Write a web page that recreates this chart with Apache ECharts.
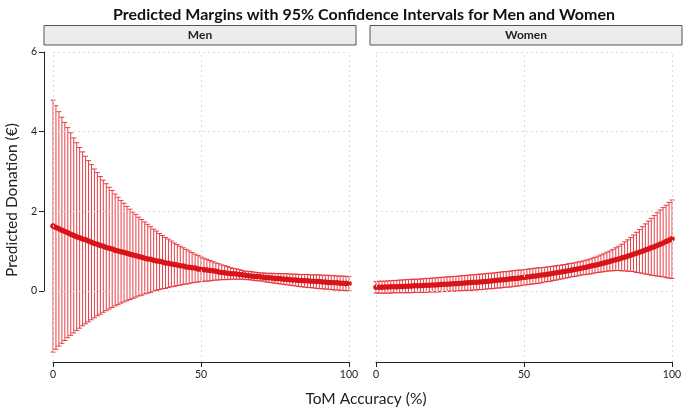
<!DOCTYPE html>
<html>
<head>
<meta charset="utf-8">
<script src="https://cdn.jsdelivr.net/npm/echarts@6/dist/echarts.min.js"></script>
<style>html,body{margin:0;padding:0;background:#fff}#c{width:685px;height:410px}</style>
</head>
<body>
<div id="c"></div>
<script>
const accuracy = [0,1,2,3,4,5,6,7,8,9,10,11,12,13,14,15,16,17,18,19,20,21,22,23,24,25,26,27,28,29,30,31,32,33,34,35,36,37,38,39,40,41,42,43,44,45,46,47,48,49,50,51,52,53,54,55,56,57,58,59,60,61,62,63,64,65,66,67,68,69,70,71,72,73,74,75,76,77,78,79,80,81,82,83,84,85,86,87,88,89,90,91,92,93,94,95,96,97,98,99,100];

const menMean = [1.63,1.59,1.56,1.52,1.49,1.46,1.42,1.39,1.36,1.33,
1.30,1.28,1.25,1.22,1.19,1.17,1.14,1.12,1.09,1.07,
1.05,1.02,1.00,0.98,0.96,0.94,0.92,0.90,0.88,0.86,
0.84,0.82,0.80,0.79,0.77,0.75,0.74,0.72,0.70,0.69,
0.67,0.66,0.65,0.63,0.62,0.60,0.59,0.58,0.57,0.55,
0.54,0.53,0.52,0.51,0.50,0.49,0.47,0.46,0.45,0.44,
0.43,0.43,0.42,0.41,0.40,0.39,0.38,0.37,0.36,0.36,
0.35,0.34,0.33,0.33,0.32,0.31,0.31,0.30,0.29,0.29,
0.28,0.27,0.27,0.26,0.26,0.25,0.25,0.24,0.24,0.23,
0.23,0.22,0.22,0.21,0.21,0.20,0.20,0.19,0.19,0.18,
0.18];
const menLow = [-1.54,-1.47,-1.39,-1.32,-1.25,-1.18,-1.12,-1.06,-1.00,-0.94,
-0.88,-0.83,-0.78,-0.73,-0.68,-0.63,-0.59,-0.54,-0.50,-0.46,
-0.42,-0.38,-0.35,-0.31,-0.28,-0.25,-0.22,-0.19,-0.16,-0.13,
-0.11,-0.08,-0.06,-0.04,-0.01,0.01,0.03,0.05,0.06,0.08,
0.10,0.11,0.13,0.14,0.16,0.17,0.18,0.20,0.21,0.22,
0.23,0.24,0.24,0.25,0.26,0.27,0.27,0.28,0.28,0.28,
0.29,0.29,0.29,0.29,0.29,0.28,0.28,0.27,0.26,0.25,
0.25,0.24,0.22,0.21,0.20,0.19,0.18,0.17,0.16,0.15,
0.14,0.13,0.12,0.11,0.10,0.09,0.08,0.08,0.07,0.06,
0.05,0.05,0.04,0.04,0.03,0.02,0.02,0.01,0.01,0.00,
0.00];
const menHigh = [4.79,4.65,4.50,4.36,4.23,4.10,3.97,3.84,3.72,3.60,
3.49,3.38,3.27,3.17,3.06,2.97,2.87,2.78,2.69,2.60,
2.52,2.43,2.35,2.27,2.20,2.12,2.05,1.98,1.92,1.85,
1.79,1.73,1.67,1.61,1.55,1.50,1.44,1.39,1.34,1.30,
1.25,1.20,1.16,1.12,1.08,1.04,1.00,0.96,0.92,0.89,
0.85,0.82,0.79,0.76,0.73,0.70,0.68,0.65,0.63,0.61,
0.58,0.56,0.55,0.53,0.51,0.49,0.49,0.48,0.47,0.46,
0.45,0.45,0.44,0.44,0.44,0.43,0.43,0.43,0.43,0.43,
0.42,0.42,0.42,0.41,0.41,0.41,0.41,0.40,0.40,0.40,
0.40,0.39,0.39,0.39,0.38,0.38,0.37,0.37,0.37,0.36,
0.36];

const womenMean = [0.086,0.088,0.091,0.093,0.096,0.099,0.101,0.104,0.107,0.110,
0.113,0.116,0.119,0.123,0.126,0.129,0.133,0.137,0.140,0.144,
0.148,0.152,0.157,0.161,0.165,0.170,0.175,0.179,0.184,0.189,
0.195,0.200,0.205,0.211,0.217,0.223,0.229,0.235,0.242,0.248,
0.255,0.262,0.270,0.277,0.285,0.293,0.301,0.309,0.317,0.326,
0.335,0.344,0.354,0.364,0.374,0.384,0.395,0.405,0.417,0.428,
0.440,0.452,0.464,0.477,0.490,0.504,0.518,0.532,0.547,0.562,
0.577,0.593,0.610,0.626,0.644,0.661,0.680,0.698,0.718,0.737,
0.758,0.778,0.800,0.822,0.845,0.868,0.892,0.916,0.942,0.968,
0.994,1.022,1.050,1.079,1.109,1.139,1.171,1.203,1.236,1.270,
1.305];
const womenLow = [-0.06,-0.06,-0.06,-0.06,-0.06,-0.06,-0.05,-0.05,-0.05,-0.05,
-0.05,-0.05,-0.05,-0.04,-0.04,-0.04,-0.04,-0.04,-0.03,-0.03,
-0.03,-0.03,-0.02,-0.02,-0.02,-0.01,-0.01,-0.01,0.00,0.00,
0.01,0.01,0.01,0.02,0.02,0.03,0.03,0.04,0.05,0.05,
0.06,0.07,0.07,0.08,0.09,0.09,0.10,0.11,0.12,0.13,
0.14,0.15,0.16,0.17,0.18,0.19,0.20,0.22,0.23,0.24,
0.26,0.27,0.29,0.30,0.32,0.33,0.35,0.36,0.37,0.39,
0.40,0.41,0.42,0.43,0.45,0.46,0.47,0.48,0.49,0.50,
0.50,0.51,0.51,0.50,0.50,0.49,0.49,0.48,0.46,0.45,
0.44,0.42,0.41,0.39,0.38,0.37,0.36,0.35,0.33,0.32,
0.31];
const womenHigh = [0.23,0.24,0.24,0.24,0.25,0.25,0.26,0.26,0.27,0.27,
0.28,0.28,0.29,0.29,0.29,0.30,0.30,0.31,0.31,0.32,
0.32,0.33,0.34,0.34,0.35,0.35,0.36,0.36,0.37,0.38,
0.38,0.39,0.40,0.40,0.41,0.42,0.42,0.43,0.44,0.44,
0.45,0.46,0.47,0.48,0.48,0.49,0.50,0.51,0.52,0.52,
0.53,0.54,0.55,0.56,0.57,0.58,0.58,0.59,0.60,0.61,
0.62,0.63,0.64,0.65,0.66,0.68,0.69,0.70,0.72,0.73,
0.75,0.77,0.79,0.82,0.84,0.87,0.90,0.93,0.97,1.00,
1.04,1.08,1.12,1.17,1.23,1.28,1.34,1.40,1.47,1.54,
1.61,1.68,1.75,1.82,1.89,1.96,2.03,2.09,2.15,2.22,
2.28];

const xTicks = [0, 50, 100];
const yTicks = [0, 2, 4, 6];
const panels = ['Men', 'Women'];

const FONT = 'Lato, "Open Sans", sans-serif';
const BAR = '#e42a31';
const MEAN = '#d8141b';
const GRIDC = '#dadada';

function errRender(params, api) {
  const x = api.value(0), lo = api.value(1), hi = api.value(2);
  const a = api.coord([x, lo]), b = api.coord([x, hi]);
  const cap = 2.5;
  const st = { stroke: BAR, lineWidth: 0.9 };
  return { type: 'group', children: [
    { type: 'line', shape: { x1: a[0], y1: a[1], x2: b[0], y2: b[1] }, style: st },
    { type: 'line', shape: { x1: b[0] - cap, y1: b[1], x2: b[0] + cap, y2: b[1] }, style: st },
    { type: 'line', shape: { x1: a[0] - cap, y1: a[1], x2: a[0] + cap, y2: a[1] }, style: st }
  ]};
}

const lefts = [53, 376];
const grids = lefts.map(l => ({ left: l, top: 52, width: 296, height: 310 }));
grids.push({ left: 44, top: 52, width: 1, height: 238.8 });

const xAxes = [0, 1].map(i => ({
  type: 'value', gridIndex: i, min: 0, max: 100, interval: 50,
  axisLine: { show: true, onZero: false, lineStyle: { color: '#222', width: 1 } },
  axisTick: { show: true, length: 5, lineStyle: { color: '#222' } },
  axisLabel: { color: '#222', fontSize: 10.5, fontFamily: FONT, margin: 7 },
  splitLine: { show: false }
}));
xAxes.push({ type: 'value', gridIndex: 2, min: 0, max: 1, show: false });

const yAxes = [0, 1].map(i => ({
  type: 'value', gridIndex: i, min: -1.79, max: 6, show: false
}));
yAxes.push({
  type: 'value', gridIndex: 2, min: 0, max: 6, interval: 2,
  axisLine: { show: true, onZero: false, lineStyle: { color: '#222', width: 1 } },
  axisTick: { show: true, length: 5, lineStyle: { color: '#222' } },
  axisLabel: { color: '#222', fontSize: 10.5, fontFamily: FONT, margin: 7 },
  splitLine: { show: false }
});

const sets = [
  { mean: menMean, low: menLow, high: menHigh },
  { mean: womenMean, low: womenLow, high: womenHigh }
];

const series = [];
sets.forEach((s, i) => {
  series.push({
    type: 'line', xAxisIndex: i, yAxisIndex: i, data: [], silent: true,
    markLine: {
      silent: true, symbol: 'none', animation: false,
      label: { show: false },
      lineStyle: { color: GRIDC, type: [2, 3], width: 1 },
      data: yTicks.map(v => ({ yAxis: v })).concat(xTicks.map(v => ({ xAxis: v })))
    }
  });
  series.push({
    type: 'custom', xAxisIndex: i, yAxisIndex: i, renderItem: errRender,
    encode: { x: 0, y: [1, 2] },
    data: accuracy.map((x, k) => [x, s.low[k], s.high[k]]),
    z: 2
  });
  series.push({
    type: 'line', xAxisIndex: i, yAxisIndex: i,
    data: accuracy.map((x, k) => [x, s.mean[k]]),
    symbol: 'circle', symbolSize: 5.5, showSymbol: true,
    lineStyle: { color: MEAN, width: 3 },
    itemStyle: { color: MEAN, borderWidth: 0 },
    z: 3
  });
});

const graphic = [];
const strips = [[44, 356], [370, 682]];
strips.forEach((s, i) => {
  graphic.push({ type: 'rect', shape: { x: s[0], y: 25.5, width: s[1] - s[0], height: 19.5 },
    style: { fill: '#ececec', stroke: '#555', lineWidth: 1 } });
  graphic.push({ type: 'text', x: (s[0] + s[1]) / 2, y: 35.5,
    style: { text: panels[i], fill: '#222', font: 'bold 12px ' + FONT, align: 'center', verticalAlign: 'middle' } });
});
graphic.push({ type: 'text', x: 366, y: 399,
  style: { text: 'ToM Accuracy (%)', fill: '#222', font: '15.5px ' + FONT, align: 'center', verticalAlign: 'middle' } });
graphic.push({ type: 'text', x: 12, y: 200, rotation: Math.PI / 2,
  style: { text: 'Predicted Donation (€)', fill: '#222', font: '15.5px ' + FONT, align: 'center', verticalAlign: 'middle' } });

const chart = echarts.init(document.getElementById('c'), null, { renderer: 'canvas' });
chart.setOption({
  animation: false,
  backgroundColor: '#fff',
  title: { text: 'Predicted Margins with 95% Confidence Intervals for Men and Women',
    left: 359, textAlign: 'center', top: 2,
    textStyle: { fontSize: 16, fontWeight: 'bold', fontFamily: FONT, color: '#111' } },
  grid: grids, xAxis: xAxes, yAxis: yAxes, series: series, graphic: graphic
});
</script>
</body>
</html>
